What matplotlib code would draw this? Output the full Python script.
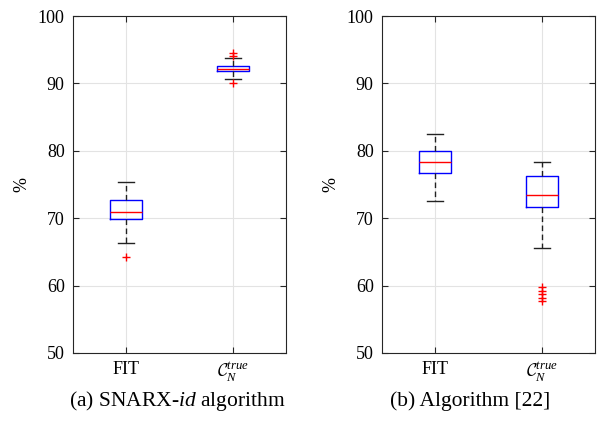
import matplotlib
matplotlib.use('Agg')
import matplotlib.pyplot as plt

plt.rcParams['font.family'] = ['Liberation Serif', 'DejaVu Serif']
plt.rcParams['mathtext.fontset'] = 'custom'
plt.rcParams['mathtext.rm'] = 'Liberation Serif'
plt.rcParams['mathtext.it'] = 'Liberation Serif:italic'
plt.rcParams['mathtext.cal'] = 'cmsy10'

categories = ['FIT', r'$\mathcal{C}_N^{true}$']

# Panel (a): SNARX-id algorithm
a_whislo = [66.3, 90.6]
a_q1 = [69.9, 91.8]
a_med = [70.9, 92.1]
a_q3 = [72.7, 92.6]
a_whishi = [75.3, 93.7]
a_fliers = [[64.3], [90.1, 94.0, 94.5]]

# Panel (b): Algorithm [22]
b_whislo = [72.5, 65.6]
b_q1 = [76.7, 71.7]
b_med = [78.3, 73.4]
b_q3 = [79.9, 76.3]
b_whishi = [82.5, 78.4]
b_fliers = [[], [57.7, 58.1, 58.7, 59.2, 59.8]]

captions = [r'(a) SNARX-$\mathit{id}$ algorithm', '(b) Algorithm [22]']
yticks = [50, 60, 70, 80, 90, 100]


def make_stats(lo, q1, med, q3, hi, fl):
    return [dict(whislo=lo[i], q1=q1[i], med=med[i], q3=q3[i], whishi=hi[i],
                 fliers=fl[i], label=categories[i]) for i in range(len(categories))]


fig = plt.figure(figsize=(6.0, 4.32), dpi=100)
panels = [
    (make_stats(a_whislo, a_q1, a_med, a_q3, a_whishi, a_fliers), 0.1217, 177 / 600),
    (make_stats(b_whislo, b_q1, b_med, b_q3, b_whishi, b_fliers), 0.6367, 470 / 600),
]

for k, (stats, left, capx) in enumerate(panels):
    ax = fig.add_axes([left, 0.1829, 0.355, 0.780])
    ax.set_axisbelow(True)
    ax.grid(True, color='#e3e3e3', linewidth=0.8)
    ax.bxp(stats, positions=[1, 2], widths=0.3,
           boxprops=dict(color='#0000ff', linewidth=1.0),
           medianprops=dict(color='#ff0000', linewidth=1.0),
           whiskerprops=dict(color='#222222', linewidth=1.0, linestyle=(0, (4, 2.5))),
           capprops=dict(color='#222222', linewidth=1.0),
           capwidths=0.15,
           flierprops=dict(marker='+', markeredgecolor='#ff0000', markersize=6,
                           markeredgewidth=1.0, linestyle='none'),
           showfliers=True)
    ax.set_xlim(0.5, 2.5)
    ax.set_ylim(50, 100)
    ax.set_yticks(yticks)
    ax.set_xticks([1, 2])
    ax.set_xticklabels(categories)
    ax.tick_params(direction='in', top=True, right=True, labelsize=13,
                   color='#262626', length=4, width=0.8, pad=6)
    for s in ax.spines.values():
        s.set_color('#262626')
        s.set_linewidth(0.8)
    ax.set_ylabel('%', fontsize=13, labelpad=5)
    fig.text(capx, 1 - 401 / 432, captions[k], ha='center', va='center', fontsize=15.5)

fig.savefig('out.png', dpi=100)
